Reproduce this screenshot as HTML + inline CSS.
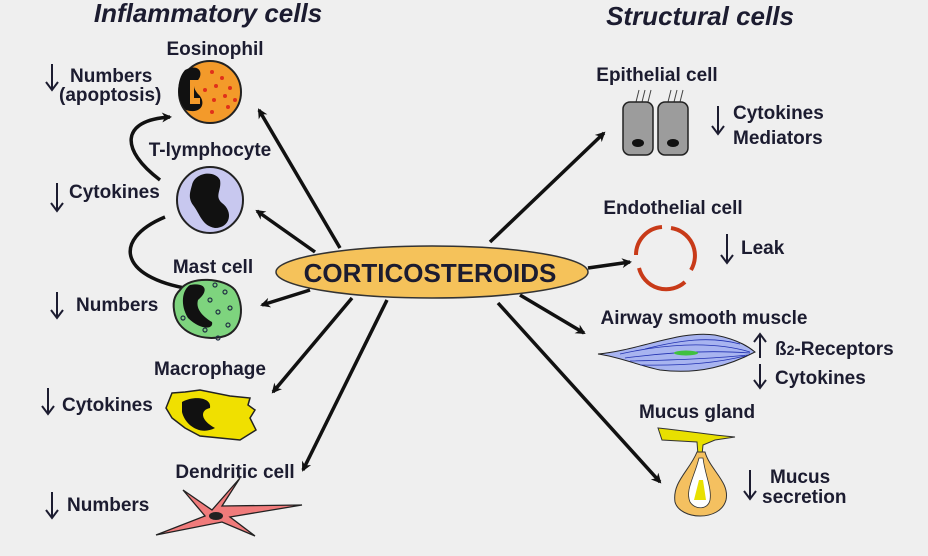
<!DOCTYPE html>
<html><head><meta charset="utf-8"><style>
html,body{margin:0;padding:0;background:#efefef;}
svg{display:block;}
text{font-family:"Liberation Sans",Arial,sans-serif;font-weight:bold;fill:#1c1c30;}
</style></head><body>
<svg width="928" height="556" viewBox="0 0 928 556" xmlns="http://www.w3.org/2000/svg">
<defs>
<marker id="a" markerWidth="10" markerHeight="10" refX="8" refY="5" orient="auto" markerUnits="userSpaceOnUse" viewBox="0 0 10 10">
<path d="M0,0 L10,5 L0,10 L3,5 z" fill="#111"/></marker>
</defs>
<rect width="928" height="556" fill="#efefef"/>
<text x="208" y="22" font-size="26" font-style="italic" text-anchor="middle">Inflammatory cells</text>
<text x="700" y="25" font-size="26" font-style="italic" text-anchor="middle">Structural cells</text>

<!-- arrows -->
<g stroke="#111" stroke-width="3.5" fill="none" marker-end="url(#a)">
<line x1="340" y1="248" x2="259" y2="110"/>
<line x1="315" y1="252" x2="257" y2="211"/>
<line x1="310" y1="290" x2="262" y2="305"/>
<line x1="352" y1="298" x2="273" y2="392"/>
<line x1="387" y1="300" x2="303" y2="470"/>
<line x1="490" y1="242" x2="604" y2="133"/>
<line x1="588" y1="268" x2="630" y2="262"/>
<line x1="520" y1="295" x2="584" y2="333"/>
<line x1="498" y1="303" x2="660" y2="482"/>
<path d="M160,180 C120,150 120,120 170,117"/>
<path d="M165,217 C110,240 120,280 197,290"/>
</g>

<!-- small up/down arrows -->
<g stroke="#1c1c30" stroke-width="2" fill="none">
<path d="M52,64 V90 M46,82 L52,90 L58,82"/>
<path d="M57,183 V211 M51,203 L57,211 L63,203"/>
<path d="M57,292 V318 M51,310 L57,318 L63,310"/>
<path d="M48,388 V414 M42,406 L48,414 L54,406"/>
<path d="M52,492 V518 M46,510 L52,518 L58,510"/>
<path d="M718,106 V134 M712,126 L718,134 L724,126"/>
<path d="M727,234 V263 M721,255 L727,263 L733,255"/>
<path d="M760,358 V334 M754,342 L760,334 L766,342"/>
<path d="M760,364 V388 M754,380 L760,388 L766,380"/>
<path d="M750,470 V499 M744,491 L750,499 L756,491"/>
</g>

<!-- ellipse -->
<ellipse cx="432" cy="272" rx="156" ry="26" fill="#f5c25a" stroke="#333" stroke-width="1.5"/>
<text x="430" y="282" font-size="26" text-anchor="middle">CORTICOSTEROIDS</text>

<!-- Eosinophil -->
<text x="215" y="55" font-size="19" text-anchor="middle">Eosinophil</text>
<circle cx="210" cy="92" r="31" fill="#f39a2a" stroke="#222" stroke-width="2"/>
<path d="M185,70 C200,62 205,75 196,82 C192,86 195,90 198,94 C207,102 202,115 186,110 C176,100 176,80 185,70z" fill="#111"/>
<path d="M190,80 h10 v6 h-6 v12 h6 v6 h-10z" fill="#f39a2a"/>
<g fill="#e0301a"><circle cx="212" cy="72" r="2"/><circle cx="222" cy="78" r="2"/><circle cx="230" cy="88" r="2"/><circle cx="216" cy="86" r="2"/><circle cx="225" cy="96" r="2"/><circle cx="214" cy="100" r="2"/><circle cx="228" cy="107" r="2"/><circle cx="212" cy="112" r="2"/><circle cx="205" cy="90" r="2"/><circle cx="235" cy="100" r="2"/></g>
<text x="70" y="82" font-size="19">Numbers</text>
<text x="59" y="101" font-size="19">(apoptosis)</text>

<!-- T-lymphocyte -->
<text x="210" y="156" font-size="19" text-anchor="middle">T-lymphocyte</text>
<circle cx="210" cy="200" r="33" fill="#c8c8ef" stroke="#222" stroke-width="2"/>
<path d="M192,185 C195,172 215,170 220,180 C222,190 214,196 222,203 C234,212 230,228 215,228 C202,226 200,214 193,205 C188,198 190,192 192,185z" fill="#111"/>
<text x="69" y="198" font-size="19">Cytokines</text>

<!-- Mast -->
<text x="213" y="273" font-size="19" text-anchor="middle">Mast cell</text>
<path d="M180,290 C190,275 225,278 235,290 C245,305 243,330 225,336 C205,342 180,334 175,315 C172,303 174,296 180,290z" fill="#7ed47e" stroke="#222" stroke-width="2"/>
<path d="M190,285 C205,282 210,290 198,300 C195,310 205,318 212,322 C214,330 200,330 188,318 C180,305 182,290 190,285z" fill="#111"/>
<g fill="none" stroke="#234" stroke-width="1.2"><circle cx="215" cy="285" r="2"/><circle cx="225" cy="292" r="2"/><circle cx="210" cy="300" r="2"/><circle cx="230" cy="308" r="2"/><circle cx="218" cy="312" r="2"/><circle cx="228" cy="325" r="2"/><circle cx="205" cy="330" r="2"/><circle cx="218" cy="338" r="2"/><circle cx="183" cy="318" r="2"/></g>
<text x="76" y="311" font-size="19">Numbers</text>

<!-- Macrophage -->
<text x="210" y="375" font-size="19" text-anchor="middle">Macrophage</text>
<path d="M172,393 L185,392 L200,390 L230,396 L250,398 L248,405 L255,410 L250,418 L256,430 L240,440 L220,438 L200,436 L185,428 L172,418 L166,408z" fill="#f0e000" stroke="#222" stroke-width="1.5"/>
<path d="M182,402 C195,395 212,398 210,408 C200,410 200,420 215,428 C200,436 185,425 182,412z" fill="#111"/>
<text x="62" y="411" font-size="19">Cytokines</text>

<!-- Dendritic -->
<text x="235" y="478" font-size="19" text-anchor="middle">Dendritic cell</text>
<path d="M183,490 L212,510 L240,478 L222,506 L302,505 L230,517 L255,536 L222,522 L156,535 L205,516z" fill="#f07b7b" stroke="#222" stroke-width="1.3"/>
<ellipse cx="216" cy="516" rx="7" ry="4" fill="#222"/>
<text x="67" y="511" font-size="19">Numbers</text>

<!-- Epithelial -->
<text x="657" y="81" font-size="19" text-anchor="middle">Epithelial cell</text>
<g stroke="#444" stroke-width="1"><path d="M636,102 l3,-12 M642,102 l3,-12 M648,102 l3,-12 M668,102 l3,-12 M674,102 l3,-12 M680,102 l3,-12"/></g>
<rect x="623" y="102" width="30" height="53" rx="7" fill="#9c9c9c" stroke="#222" stroke-width="1.5"/>
<rect x="658" y="102" width="30" height="53" rx="7" fill="#9c9c9c" stroke="#222" stroke-width="1.5"/>
<ellipse cx="638" cy="143" rx="6" ry="4" fill="#111"/><ellipse cx="673" cy="143" rx="6" ry="4" fill="#111"/>
<text x="733" y="119" font-size="19">Cytokines</text>
<text x="733" y="144" font-size="19">Mediators</text>

<!-- Endothelial -->
<text x="673" y="214" font-size="19" text-anchor="middle">Endothelial cell</text>
<g fill="none" stroke="#c83a18" stroke-width="4"><path d="M636,255 A28,28 0 0 1 662,227"/><path d="M671,228 A28,28 0 0 1 691,270"/><path d="M685,282 A28,28 0 0 1 639,268"/></g>
<text x="741" y="254" font-size="19">Leak</text>

<!-- Smooth muscle -->
<text x="704" y="324" font-size="19" text-anchor="middle">Airway smooth muscle</text>
<path d="M598,354 C640,350 680,330 715,335 C740,340 750,348 755,352 C730,365 700,375 660,370 C640,366 620,357 598,354z" fill="#a8b4f0" stroke="#222" stroke-width="1"/>
<g stroke="#2030b0" stroke-width="0.8" fill="none"><path d="M620,354 C660,345 710,340 750,352"/><path d="M625,358 C670,352 710,350 750,353"/><path d="M630,361 C680,360 720,358 748,355"/><path d="M640,365 C690,366 720,362 745,356"/><path d="M645,349 C680,340 710,336 740,344"/></g>
<ellipse cx="686" cy="353" rx="12" ry="2.5" fill="#40c040"/>
<text x="775" y="355" font-size="19">ß<tspan font-size="14">2</tspan>-Receptors</text>
<text x="775" y="384" font-size="19">Cytokines</text>

<!-- Mucus gland -->
<text x="697" y="418" font-size="19" text-anchor="middle">Mucus gland</text>
<path d="M658,428 C680,430 710,435 735,437 L715,440 L703,445 L702,455 L698,455 L697,442 L662,440z" fill="#e8e000" stroke="#333" stroke-width="1"/>
<path d="M697,452 C690,470 672,482 675,502 C680,520 720,522 726,500 C730,482 710,470 705,452z" fill="#f4c060" stroke="#333" stroke-width="1"/>
<path d="M699,458 C694,478 685,490 690,502 C695,510 708,510 710,500 C712,488 705,475 703,458z" fill="#fff" stroke="#333" stroke-width="0.8"/>
<path d="M699,480 L703,480 L706,500 L694,500z" fill="#e8e000"/>
<text x="770" y="483" font-size="19">Mucus</text>
<text x="762" y="503" font-size="19">secretion</text>
</svg>
</body></html>
